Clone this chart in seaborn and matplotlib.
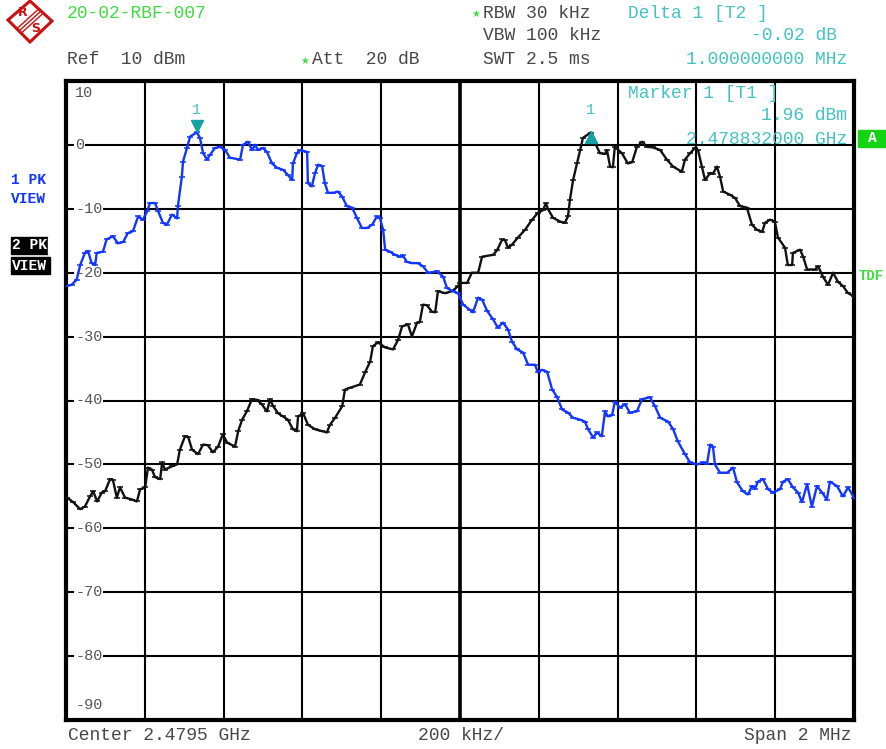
import matplotlib
matplotlib.use("Agg")
import matplotlib.pyplot as plt
import matplotlib.transforms as mtransforms
from matplotlib.patches import Polygon, Rectangle
from matplotlib.lines import Line2D
import numpy as np
import pandas as pd
import seaborn as sns

# ---------------------------------------------------------------- data
START_MHZ = 2478.5          # left edge of the sweep
SPAN_KHZ = 2000             # full span
DIV_KHZ = 200               # kHz per division
REF_DBM = 10
DB_PER_DIV = 10

# Trace 1 (blue, peak hold): frequency offset from start [kHz], level [dBm]
trace1_khz = [0, 14, 27, 36, 48, 56, 65, 74, 78, 94, 103, 119, 132, 145, 157, 170,
              183, 195, 206, 213, 226, 234, 246, 256, 269, 282, 284, 294, 297, 307,
              315, 332, 340, 348, 358, 365, 378, 391, 404, 416, 442, 449, 462, 472,
              480, 487, 500, 510, 523, 536, 551, 563, 574, 576, 586, 594, 612, 614,
              624, 632, 640, 650, 657, 665, 678, 690, 701, 713, 726, 739, 751, 764,
              777, 789, 797, 805, 810, 822, 835, 848, 855, 865, 878, 893, 906, 919,
              942, 957, 967, 982, 995, 1008, 1025, 1033, 1046, 1056, 1069, 1084,
              1096, 1109, 1122, 1132, 1145, 1160, 1173, 1190, 1198, 1208, 1221, 1234,
              1246, 1259, 1274, 1287, 1305, 1317, 1325, 1338, 1348, 1360, 1368, 1376,
              1386, 1393, 1406, 1419, 1431, 1449, 1462, 1482, 1495, 1508, 1528, 1541,
              1553, 1571, 1584, 1602, 1617, 1627, 1635, 1642, 1647, 1660, 1678, 1693,
              1703, 1718, 1731, 1741, 1749, 1756, 1769, 1782, 1794, 1812, 1820, 1832,
              1845, 1858, 1868, 1881, 1893, 1906, 1919, 1931, 1939, 1957, 1972, 1985,
              2000]
trace1_dbm = [-22.1, -21.9, -21.1, -18.8, -16.9, -16.6, -18.5, -18.8, -16.9, -16.7,
              -14.8, -14.3, -15.4, -15.2, -13.8, -13.5, -11.2, -11.7, -10.4, -9.1,
              -9.1, -10.4, -12.2, -12.5, -10.9, -11.5, -9.6, -5.0, -2.6, -0.5, 1.3,
              1.96, 1.1, -1.3, -2.3, -1.6, -0.5, -0.3, -0.8, -2.0, -2.3, 0.0, 0.5,
              -0.8, 0.0, -0.8, -0.5, -1.1, -2.9, -3.6, -3.9, -4.7, -5.5, -2.9, -1.3,
              -0.8, -1.1, -6.0, -6.5, -4.4, -3.1, -3.3, -6.0, -7.5, -7.5, -7.3, -8.1,
              -9.6, -9.8, -11.5, -13.0, -13.0, -12.5, -11.2, -11.5, -13.3, -16.4,
              -16.7, -17.2, -17.5, -17.3, -18.3, -18.5, -18.5, -19.0, -20.0, -19.8,
              -20.6, -22.4, -22.9, -23.2, -25.0, -25.8, -26.2, -23.9, -24.2, -26.0,
              -27.3, -28.6, -27.8, -28.9, -30.8, -32.0, -32.5, -34.4, -34.4, -35.6,
              -35.2, -35.5, -38.3, -39.4, -41.4, -41.9, -42.7, -43.0, -43.3, -44.5,
              -45.8, -45.0, -45.6, -41.7, -42.5, -42.3, -40.2, -41.1, -40.6, -41.9,
              -41.7, -39.8, -39.5, -40.9, -42.7, -43.3, -44.5, -46.4, -48.4, -49.7,
              -50.0, -49.7, -49.9, -46.9, -47.2, -50.0, -51.3, -51.3, -50.5, -52.8,
              -54.2, -54.7, -53.4, -53.8, -52.7, -52.3, -53.9, -54.4, -53.9, -52.7,
              -52.3, -53.6, -54.4, -55.9, -53.1, -56.6, -53.4, -54.4, -55.5, -52.7,
              -53.4, -55.0, -53.6, -55.2]

# Trace 2 (black, peak hold)
trace2_khz = [3, 18, 36, 48, 61, 69, 79, 91, 99, 112, 119, 129, 137, 150, 168, 180,
              188, 201, 208, 218, 226, 239, 244, 251, 269, 282, 289, 302, 310, 320,
              335, 348, 360, 373, 386, 398, 409, 429, 437, 447, 459, 472, 485, 497,
              510, 518, 525, 538, 551, 563, 576, 586, 589, 602, 614, 632, 650, 662,
              670, 683, 701, 708, 721, 746, 759, 772, 779, 792, 810, 830, 843, 853,
              868, 878, 891, 898, 906, 916, 929, 937, 944, 962, 980, 995, 1000, 1018,
              1030, 1046, 1056, 1084, 1094, 1107, 1114, 1122, 1132, 1147, 1165, 1183,
              1198, 1211, 1218, 1223, 1236, 1254, 1266, 1274, 1279, 1287, 1297, 1305,
              1312, 1332, 1343, 1355, 1368, 1373, 1381, 1388, 1393, 1411, 1426, 1437,
              1449, 1462, 1475, 1490, 1508, 1525, 1541, 1563, 1571, 1584, 1596, 1604,
              1614, 1622, 1635, 1642, 1652, 1660, 1668, 1685, 1698, 1711, 1728, 1741,
              1754, 1767, 1774, 1787, 1799, 1807, 1825, 1832, 1843, 1845, 1863, 1871,
              1881, 1901, 1909, 1921, 1934, 1947, 1959, 1972, 1985, 2000]
trace2_dbm = [-55.2, -55.9, -57.0, -56.6, -55.0, -54.2, -55.8, -54.4, -54.2, -52.3,
              -52.4, -55.2, -53.6, -55.2, -55.5, -55.8, -53.9, -53.6, -50.5, -50.8,
              -52.0, -52.3, -49.7, -50.8, -50.3, -50.0, -47.7, -45.6, -45.7, -47.7,
              -48.4, -46.9, -47.0, -48.1, -47.2, -45.3, -46.6, -47.2, -44.8, -43.0,
              -41.7, -39.8, -39.9, -40.6, -41.7, -39.8, -40.8, -42.0, -42.5, -43.0,
              -44.5, -44.8, -42.5, -42.0, -43.8, -44.5, -44.8, -45.0, -43.8, -42.7,
              -40.9, -38.3, -38.0, -37.5, -35.6, -33.9, -31.5, -30.9, -31.7, -32.0,
              -30.5, -28.4, -28.1, -30.0, -27.8, -27.7, -25.0, -25.1, -26.1, -26.2,
              -22.9, -23.2, -22.9, -22.1, -21.6, -21.6, -20.0, -20.0, -17.5, -17.2,
              -16.5, -14.8, -14.9, -16.1, -15.6, -14.5, -13.3, -11.7, -10.6, -10.2,
              -9.1, -10.0, -11.4, -12.0, -12.2, -11.2, -8.6, -5.5, -2.9, -0.8, 1.1,
              1.94, 0.3, -1.3, -1.4, -0.8, -3.4, -3.5, -0.3, -1.3, -2.9, -2.7, -0.3,
              0.5, -0.3, -0.4, -0.8, -2.3, -3.4, -4.2, -2.3, -1.3, -0.5, -0.8, -3.4,
              -5.5, -4.4, -4.5, -3.4, -5.0, -7.3, -7.8, -8.3, -9.6, -9.8, -12.5, -13.3,
              -13.6, -12.2, -11.7, -12.0, -14.5, -16.1, -18.8, -18.8, -16.9, -16.4,
              -17.5, -19.5, -19.5, -19.0, -20.6, -21.9, -20.0, -21.4, -22.1, -23.2,
              -23.7]

# Markers: marker 1 on trace 1, delta marker 1 on trace 2
marker1_khz, marker1_dbm = 332, 1.96
delta1_khz, delta1_dbm = 1332, 1.94

# ---------------------------------------------------------------- style
W, H = 886, 749
sns.set_style("white")
plt.rcParams['font.family'] = ['Liberation Mono', 'DejaVu Sans Mono']

GREY = "#484848"
GREEN = "#3fdc3f"
CYAN = "#45c2c2"
TEAL = "#16a0a0"
BLUE = "#1236ff"
FS = 13


def fx(x):
    return x / W


def fy(y):
    return 1 - y / H


fig = plt.figure(figsize=(W / 100, H / 100), dpi=100)
fig.patch.set_facecolor("white")
ax = fig.add_axes([fx(66), fy(720), 788 / W, 639 / H])

to_mhz = lambda k: START_MHZ + np.asarray(k) / 1000.0
df = pd.concat([
    pd.DataFrame({"freq": to_mhz(trace1_khz), "level": trace1_dbm, "trace": "1"}),
    pd.DataFrame({"freq": to_mhz(trace2_khz), "level": trace2_dbm, "trace": "2"}),
])

x0, x1 = START_MHZ, START_MHZ + SPAN_KHZ / 1000
y0, y1 = REF_DBM - 10 * DB_PER_DIV, REF_DBM
ax.set_xlim(x0, x1)
ax.set_ylim(y0, y1)

# graticule
ax.set_xticks([x0 + i * DIV_KHZ / 1000 for i in range(11)])
ax.set_yticks(list(range(y0, y1 + 1, DB_PER_DIV)))
ax.grid(True, color="black", lw=1.5, zorder=1)
ax.tick_params(length=0, labelbottom=False, labelleft=False)
ax.axvline((x0 + x1) / 2, color="black", lw=2.6, zorder=1.5)
for s in ax.spines.values():
    s.set_linewidth(3)
    s.set_color("black")

# traces
for name, col in [("2", "#111111"), ("1", BLUE)]:
    sub = df[df["trace"] == name]
    sns.lineplot(data=sub, x="freq", y="level", ax=ax, color=col, lw=1.7,
                 estimator=None, sort=False, marker="_", markersize=5,
                 markeredgewidth=1.1, markeredgecolor=col, zorder=3)
ax.set_xlabel("")
ax.set_ylabel("")

# level labels inside the graticule
ylab_tr = mtransforms.blended_transform_factory(ax.transAxes, ax.transData)
for v in range(y1, y0 - 1, -DB_PER_DIV):
    yv = v
    if v == y1:
        yv = v - 1.9
    elif v == y0:
        yv = v + 2.4
    ax.text(9 / 788, yv, f"{v:d}", transform=ylab_tr, ha="left", va="center",
            fontsize=11, color="#555555",
            bbox=dict(facecolor="white", edgecolor="none", pad=0.6), zorder=2)

# markers
up = mtransforms.offset_copy(ax.transData, fig=fig, x=0, y=6, units="dots")
dn = mtransforms.offset_copy(ax.transData, fig=fig, x=0, y=-4, units="dots")
ax.plot([to_mhz(marker1_khz)], [marker1_dbm], marker="v", ms=8.5, color=TEAL,
        transform=up, zorder=5, ls="none")
ax.plot([to_mhz(delta1_khz)], [delta1_dbm], marker="^", ms=8.5, color=TEAL,
        transform=dn, zorder=5, ls="none")
for k in (marker1_khz, delta1_khz):
    ax.text(to_mhz(k), 5.5, "1", ha="center", va="center", fontsize=11,
            color=CYAN, zorder=5)

# marker readout
m1_ghz = to_mhz(marker1_khz) / 1000
fig.text(fx(628), fy(93), "Marker 1 [T1 ]", ha="left", va="center",
         fontsize=FS, color=CYAN)
fig.text(fx(847), fy(116), f"{marker1_dbm:.2f} dBm", ha="right", va="center",
         fontsize=FS, color=CYAN)
fig.text(fx(847), fy(140), f"{m1_ghz:.9f} GHz", ha="right", va="center",
         fontsize=FS, color=CYAN, zorder=1)

# header
fig.text(fx(67), fy(13), "20-02-RBF-007", ha="left", va="center", fontsize=FS, color=GREEN)
fig.text(fx(67), fy(60), "Ref  10 dBm", ha="left", va="center", fontsize=FS, color=GREY)
fig.text(fx(300), fy(61), "\u2605", ha="left", va="center", fontsize=7,
         color=GREEN, family=["DejaVu Sans"])
fig.text(fx(312), fy(60), "Att  20 dB", ha="left", va="center", fontsize=FS, color=GREY)
fig.text(fx(471), fy(14), "\u2605", ha="left", va="center", fontsize=7,
         color=GREEN, family=["DejaVu Sans"])
fig.text(fx(483), fy(13), "RBW 30 kHz", ha="left", va="center", fontsize=FS, color=GREY)
fig.text(fx(483), fy(35), "VBW 100 kHz", ha="left", va="center", fontsize=FS, color=GREY)
fig.text(fx(483), fy(60), "SWT 2.5 ms", ha="left", va="center", fontsize=FS, color=GREY)
fig.text(fx(628), fy(13), "Delta 1 [T2 ]", ha="left", va="center", fontsize=FS, color=CYAN)
fig.text(fx(837), fy(35), f"{delta1_dbm - marker1_dbm:.2f} dB", ha="right",
         va="center", fontsize=FS, color=CYAN)
fig.text(fx(847), fy(60), f"{(delta1_khz - marker1_khz) / 1000:.9f} MHz", ha="right",
         va="center", fontsize=FS, color=CYAN)

# footer
fig.text(fx(68), fy(736), "Center 2.4795 GHz", ha="left", va="center", fontsize=FS, color=GREY)
fig.text(fx(418), fy(736), f"{DIV_KHZ} kHz/", ha="left", va="center", fontsize=FS, color=GREY)
fig.text(fx(852), fy(736), "Span 2 MHz", ha="right", va="center", fontsize=FS, color=GREY)

# trace status labels on the left
fig.text(fx(11), fy(180), "1 PK", ha="left", va="center", fontsize=10.5,
         color=BLUE, weight="bold")
fig.text(fx(11), fy(199), "VIEW", ha="left", va="center", fontsize=10.5,
         color=BLUE, weight="bold")
fig.patches.append(Rectangle((fx(11), fy(254)), fx(48) - fx(11), fy(237) - fy(254),
                             transform=fig.transFigure, color="black", zorder=1))
fig.patches.append(Rectangle((fx(11), fy(274)), fx(50) - fx(11), fy(257) - fy(274),
                             transform=fig.transFigure, color="black", zorder=1))
fig.text(fx(12), fy(245), "2 PK", ha="left", va="center", fontsize=10.5,
         color="white", weight="bold", zorder=2)
fig.text(fx(12), fy(266), "VIEW", ha="left", va="center", fontsize=10.5,
         color="white", weight="bold", zorder=2)
# mask the part of "2 PK" beyond its box
fig.patches.append(Rectangle((fx(48), fy(254)), fx(60) - fx(48), fy(237) - fy(254),
                             transform=fig.transFigure, color="white", zorder=3))

# right side indicators
fig.patches.append(Rectangle((fx(858), fy(147)), fx(886) - fx(858), fy(130) - fy(147),
                             transform=fig.transFigure, color="#12d412", zorder=1))
fig.text(fx(872), fy(138), "A", ha="center", va="center", fontsize=10.5,
         color="white", weight="bold", zorder=2)
fig.text(fx(859), fy(276), "TDF", ha="left", va="center", fontsize=10,
         color=GREEN, weight="bold")

# R&S logo
RED = "#cc1111"
diamond = [(8, 20), (30, 1), (52, 21), (30, 42)]
fig.patches.append(Polygon([(fx(a), fy(b)) for a, b in diamond], closed=True,
                           fill=False, edgecolor=RED, lw=2.2,
                           transform=fig.transFigure))
for d in (-2.2, 0, 2.2):
    fig.lines.append(Line2D([fx(41 + d), fx(19 + d)], [fy(11 + d), fy(31 + d)],
                            color=RED, lw=1.0, transform=fig.transFigure))
fig.text(fx(23), fy(13), "R", ha="center", va="center", fontsize=9,
         color=RED, weight="bold", family=["DejaVu Sans"])
fig.text(fx(36), fy(29), "S", ha="center", va="center", fontsize=9,
         color=RED, weight="bold", family=["DejaVu Sans"])

fig.savefig("out.png", dpi=100, facecolor="white")
